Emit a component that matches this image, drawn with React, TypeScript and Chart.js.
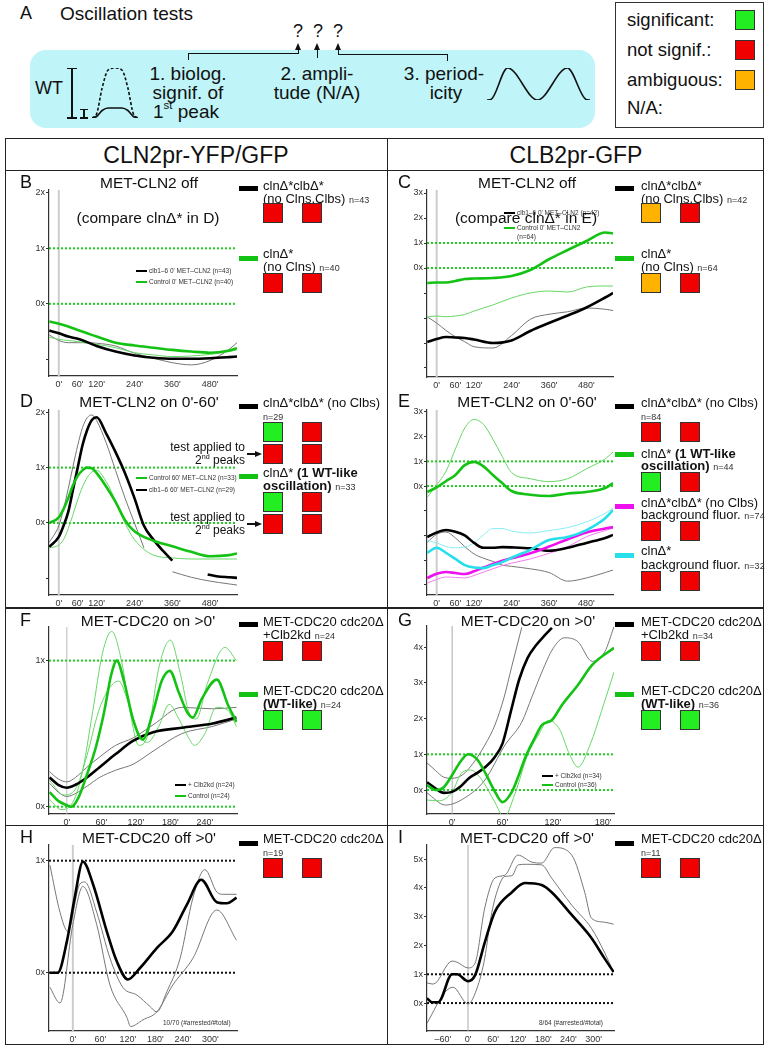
import React, { useEffect, useRef } from "react";
import { Chart, registerables } from "chart.js";
Chart.register(...registerables);

const FONT = '"Liberation Sans", Arial, Helvetica, sans-serif';

// ---------- colours ----------
const GREEN = "#14c214";
const GREEN_THIN = "#66d866";
const GREEN_DOT = "#22cc22";
const BLACK = "#000000";
const GRAY_THIN = "#777777";
const CYAN = "#27dfea";
const CYAN_THIN = "#86eef4";
const MAGENTA = "#ee10ee";
const MAGENTA_THIN = "#f27af2";
const SQ_GREEN = "#22ee22";
const SQ_RED = "#f00000";
const SQ_ORANGE = "#ffb300";
const AXIS = "#333333";

// ---------- tick values ----------
const X_TICKS_LONG = [0, 60, 120, 240, 360, 480];
const X_TICKS_F = [0, 60, 120, 180, 240];
const X_TICKS_G = [0, 60, 120, 180];
const X_TICKS_H = [0, 60, 120, 180, 240, 300];
const X_TICKS_I = [-60, 0, 60, 120, 180, 240, 300];
const Y_TICKS_BD = [2, 1, 0, -1];
const Y_TICKS_CE = [3, 2, 1, 0, -1, -2, -3, -4];
const Y_TICKS_F = [1, 0];
const Y_TICKS_G = [4, 3, 2, 1, 0];
const Y_TICKS_H = [1, 0];
const Y_TICKS_I = [5, 4, 3, 2, 1, 0];

// ---------- B / C ----------
const BC_T = [-30, 0, 30, 60, 90, 120, 180, 240, 300, 360, 420, 480, 540, 565];
const B_GREEN = [-0.32, -0.36, -0.41, -0.47, -0.53, -0.59, -0.7, -0.75, -0.79, -0.83, -0.86, -0.88, -0.84, -0.8];
const B_GREEN_THIN = [-0.6, -0.64, -0.66, -0.68, -0.71, -0.73, -0.79, -0.88, -0.92, -0.95, -0.94, -0.91, -0.86, -0.83];
const B_BLACK = [-0.48, -0.53, -0.59, -0.63, -0.69, -0.76, -0.86, -0.93, -0.97, -0.99, -0.99, -0.98, -0.96, -0.95];
const B_GRAY = [-0.56, -0.66, -0.7, -0.7, -0.7, -0.71, -0.76, -0.89, -0.98, -1.06, -1.1, -1.02, -0.82, -0.7];
const C_GREEN = [-0.6, -0.58, -0.58, -0.52, -0.44, -0.42, -0.4, -0.32, -0.08, 0.35, 0.72, 1.08, 1.42, 1.38];
const C_GREEN_THIN = [-1.96, -1.92, -1.95, -1.92, -1.86, -1.72, -1.48, -1.2, -1.0, -0.92, -0.96, -0.76, -0.72, -0.72];
const C_BLACK = [-2.96, -2.84, -2.76, -2.78, -2.8, -2.86, -3.0, -2.9, -2.52, -2.2, -1.9, -1.58, -1.18, -1.0];
const C_GRAY = [-1.96, -2.2, -2.5, -2.75, -2.95, -3.15, -3.2, -2.7, -2.05, -1.85, -1.75, -1.6, -1.65, -1.7];

// ---------- D ----------
const D_BLACK_T = [-30, 0, 15, 30, 45, 60, 75, 90, 105, 120, 150, 180, 210, 240, 270, 300, 330, 360];
const D_BLACK = [-0.43, -0.25, -0.05, 0.2, 0.6, 1.0, 1.4, 1.68, 1.86, 1.91, 1.62, 1.28, 0.9, 0.45, -0.05, -0.3, -0.5, -0.68];
const D_BLACK2_T = [472, 500, 540, 565];
const D_BLACK2 = [-0.93, -0.96, -0.98, -0.99];
const D_GRAY_T = [-30, 0, 15, 30, 45, 60, 75, 90, 105, 120, 150, 180, 210, 240, 270];
const D_GRAY = [-0.35, -0.05, 0.25, 0.62, 1.02, 1.4, 1.72, 1.9, 1.95, 1.85, 1.45, 0.95, 0.45, 0.0, -0.45];
const D_GRAY2_T = [360, 420, 480, 540, 565];
const D_GRAY2 = [-0.88, -0.98, -1.05, -1.1, -1.12];
const D_GREEN_T = [-30, 0, 15, 30, 45, 60, 75, 90, 105, 120, 150, 180, 210, 240, 300, 360, 420, 480, 540, 565];
const D_GREEN = [0.0, 0.1, 0.25, 0.45, 0.68, 0.85, 0.95, 1.0, 0.99, 0.9, 0.66, 0.38, 0.05, -0.15, -0.32, -0.42, -0.52, -0.6, -0.58, -0.55];
const D_GREEN_THIN = [-0.45, -0.4, -0.3, -0.1, 0.15, 0.42, 0.65, 0.82, 0.92, 0.95, 0.75, 0.4, 0.0, -0.3, -0.58, -0.63, -0.65, -0.65, -0.65, -0.65];

// ---------- E ----------
const E_T = [-30, 0, 30, 60, 90, 120, 150, 180, 210, 240, 300, 360, 420, 480, 540, 565];
const E_GREEN = [-0.24, -0.05, 0.2, 0.45, 0.85, 0.98, 0.8, 0.45, 0.12, -0.2, -0.35, -0.4, -0.3, -0.24, -0.08, 0.12];
const E_GREEN_THIN = [-0.45, 0.05, 0.6, 1.5, 2.35, 2.7, 2.5, 1.9, 1.2, 0.55, 0.3, 0.18, 0.3, 0.7, 1.1, 1.38];
const E_BLACK = [-2.06, -1.88, -1.78, -1.85, -2.0, -2.3, -2.5, -2.5, -2.47, -2.48, -2.52, -2.62, -2.5, -2.3, -2.1, -1.98];
const E_GRAY = [-2.27, -1.95, -1.86, -2.1, -2.45, -2.75, -2.92, -3.05, -3.2, -3.25, -3.35, -3.5, -3.85, -3.72, -3.5, -3.4];
const E_CYAN = [-2.7, -2.5, -2.7, -2.95, -3.2, -3.3, -3.32, -3.2, -3.08, -2.9, -2.58, -2.18, -2.06, -1.78, -1.3, -0.97];
const E_CYAN_THIN = [-2.2, -2.3, -2.45, -2.5, -2.47, -2.3, -1.98, -1.72, -1.72, -1.82, -1.9, -1.8, -1.68, -1.45, -1.1, -0.9];
const E_MAGENTA = [-3.72, -3.55, -3.48, -3.52, -3.56, -3.45, -3.3, -3.15, -3.02, -2.92, -2.72, -2.45, -2.15, -1.88, -1.72, -1.66];
const E_MAGENTA_THIN = [-3.93, -3.78, -3.68, -3.7, -3.72, -3.62, -3.48, -3.35, -3.22, -3.12, -2.95, -2.72, -2.45, -2.05, -1.8, -1.7];

// ---------- F ----------
const F_GREEN_T = [-30, -15, 0, 8, 20, 35, 50, 65, 77, 87, 100, 115, 132, 150, 165, 179, 195, 209, 219, 235, 261, 280, 295];
const F_GREEN = [0.1, 0.04, 0.01, 0.0, 0.06, 0.22, 0.4, 0.65, 0.9, 1.0, 0.85, 0.6, 0.46, 0.65, 0.86, 0.93, 0.78, 0.65, 0.61, 0.74, 0.87, 0.7, 0.58];
const F_GREEN_UP_T = [-30, -10, 5, 25, 45, 62, 78, 95, 110, 125, 140, 160, 180, 198, 212, 225, 245, 275, 295];
const F_GREEN_UP = [0.05, -0.02, 0.0, 0.2, 0.65, 1.05, 1.2, 1.0, 0.65, 0.42, 0.48, 0.95, 1.14, 0.9, 0.65, 0.6, 0.85, 1.09, 1.0];
const F_GREEN_LO_T = [-30, -5, 15, 35, 55, 72, 90, 108, 125, 140, 160, 178, 195, 212, 222, 240, 260, 280, 295];
const F_GREEN_LO = [0.18, 0.08, 0.12, 0.35, 0.65, 0.8, 0.86, 0.7, 0.5, 0.44, 0.55, 0.7, 0.6, 0.47, 0.42, 0.5, 0.68, 0.66, 0.55];
const F_BLACK_T = [-30, -15, 0, 15, 35, 57, 85, 115, 150, 200, 254, 295];
const F_BLACK = [0.2, 0.15, 0.13, 0.15, 0.2, 0.27, 0.36, 0.45, 0.51, 0.54, 0.57, 0.61];
const F_GRAY_UP = [0.24, 0.19, 0.17, 0.2, 0.27, 0.34, 0.42, 0.47, 0.56, 0.68, 0.67, 0.68];
const F_GRAY_LO = [0.16, 0.1, 0.07, 0.09, 0.14, 0.2, 0.25, 0.29, 0.38, 0.5, 0.55, 0.6];

// ---------- G ----------
const G_BLACK_T = [-30, -20, -10, 0, 10, 20, 30, 40, 50, 60, 70, 80, 90, 100, 110, 119];
const G_BLACK = [0.22, 0.05, -0.08, -0.05, 0.1, 0.33, 0.48, 0.65, 0.9, 1.3, 2.2, 3.1, 3.7, 4.05, 4.32, 4.54];
const G_GRAY_UP_T = [-30, -20, -10, 0, 12, 25, 39, 51, 62, 71, 83];
const G_GRAY_UP = [0.76, 0.55, 0.36, 0.33, 0.42, 0.75, 1.26, 1.82, 2.6, 3.45, 4.55];
const G_GRAY_LO_T = [-30, -8, 15, 39, 63, 83, 95, 107, 120, 134, 150, 167, 182, 193];
const G_GRAY_LO = [-0.08, -0.42, -0.22, 0.28, 1.26, 1.9, 2.6, 3.3, 3.95, 4.26, 4.15, 3.6, 3.87, 4.57];
const G_GREEN_T = [-30, -20, -10, 0, 10, 19, 30, 39, 50, 60, 71, 80, 87, 99, 107, 119, 131, 150, 167, 193];
const G_GREEN = [0.14, 0.0, 0.08, 0.42, 0.8, 1.0, 0.85, 0.5, 0.0, -0.34, -0.06, 0.45, 0.9, 1.48, 1.82, 1.96, 2.38, 2.94, 3.5, 3.98];
const G_GREEN_THIN_T = [-30, -15, 0, 12, 22, 35, 50, 62, 75, 90, 102, 115, 128, 140, 150, 165, 178, 193];
const G_GREEN_THIN = [-0.28, -0.3, -0.05, 0.5, 0.56, 0.3, -0.3, -0.75, -0.1, 0.98, 1.5, 1.95, 1.7, 1.0, 0.64, 1.3, 2.2, 3.3];

// ---------- H ----------
const H_BLACK_T = [-50, -33, -13, 4, 22, 44, 74, 96, 120, 146, 183, 218, 249, 280, 314, 336, 357];
const H_BLACK = [0, 0, 0.28, 0.67, 0.99, 0.79, 0.37, 0.1, -0.06, 0.04, 0.22, 0.37, 0.61, 0.83, 0.63, 0.62, 0.67];
const H_GRAY1_T = [-50, -28, -11, 15, 26, 52, 81, 109, 140, 168, 183, 205, 234, 262, 288, 314, 328, 357];
const H_GRAY1 = [0.96, 0.54, 0.37, 0.79, 0.81, 0.54, 0.13, -0.13, -0.2, -0.3, -0.35, -0.17, 0.13, 0.67, 0.92, 0.72, 0.7, 0.7];
const H_GRAY2_T = [-50, -28, 0, 22, 52, 81, 118, 126, 153, 183, 218, 262, 314, 357];
const H_GRAY2 = [-0.13, -0.27, 0.43, 0.77, 0.43, -0.11, -0.4, -0.48, -0.42, -0.35, -0.11, 0.13, 0.56, 0.29];

// ---------- I ----------
const I_BLACK_T = [-98, -86, -71, -38, -26, 0, 17, 40, 64, 105, 136, 176, 200, 248, 295, 326, 348];
const I_BLACK = [0.17, 0.03, 0.03, 1.0, 1.0, 0.76, 0.97, 2.1, 3.16, 3.85, 4.17, 4.1, 3.85, 3.06, 2.26, 1.56, 1.08];
const I_GRAY_UP_T = [-98, -83, -38, -26, 0, 17, 40, 64, 88, 119, 152, 176, 207, 248, 279, 295, 326, 348];
const I_GRAY_UP = [0.7, 0.66, 1.46, 1.42, 1.22, 1.39, 3.3, 4.34, 4.44, 5.14, 4.9, 4.86, 5.4, 5.14, 3.85, 2.95, 2.81, 2.74];
const I_GRAY_LO_T = [-98, -55, -36, 0, 24, 40, 55, 70, 88, 105, 120, 140, 176, 200, 248, 295, 326, 348];
const I_GRAY_LO = [-0.7, 0.38, 0.55, -0.03, 0.62, 1.56, 3.0, 3.9, 4.4, 4.42, 4.8, 4.82, 4.8, 4.34, 3.4, 2.6, 1.77, 1.08];

// ---------- schematic (panel A) ----------
const PEAK_X = [0, 0.1, 0.22, 0.35, 0.5, 0.65, 0.78, 0.9, 1];
const PEAK_WT = [0, 0.08, 0.6, 0.96, 1, 0.96, 0.6, 0.08, 0];
const PEAK_MUT = [0, 0.03, 0.15, 0.2, 0.2, 0.2, 0.15, 0.03, 0];
const WAVE_X = [0, 0.04, 0.2, 0.49, 0.78, 0.96, 1];
const WAVE_Y = [0, 0.02, 1, 0, 1, 0.02, 0];

type Line = { t: number[]; v: number[]; color: string; w: number; dash?: number[] };
type Panel = {
  left: number; top: number; right: number; bottom: number;
  xMin: number; xMax: number; yMin: number; yMax: number;
  xTicks: number[]; yTicks: number[]; refs: number[]; refColor: string;
  zeroColor: string; zeroWidth: number; lines: Line[];
};

const thin = (t: number[], v: number[], color: string): Line => ({ t, v, color, w: 1 });
const thick = (t: number[], v: number[], color: string): Line => ({ t, v, color, w: 2.6 });

const PANELS: Panel[] = [
  { // B
    left: 49, top: 190, right: 237, bottom: 376, xMin: -31, xMax: 565, yMin: -1.3, yMax: 2.05,
    xTicks: X_TICKS_LONG, yTicks: Y_TICKS_BD, refs: [1, 0], refColor: GREEN_DOT, zeroColor: "#cccccc", zeroWidth: 2,
    lines: [thin(BC_T, B_GRAY, GRAY_THIN), thin(BC_T, B_GREEN_THIN, GREEN_THIN), thick(BC_T, B_BLACK, BLACK), thick(BC_T, B_GREEN, GREEN)],
  },
  { // C
    left: 427, top: 190, right: 613, bottom: 377, xMin: -31, xMax: 565, yMin: -4.36, yMax: 3.12,
    xTicks: X_TICKS_LONG, yTicks: Y_TICKS_CE, refs: [1, 0], refColor: GREEN_DOT, zeroColor: "#cccccc", zeroWidth: 2,
    lines: [thin(BC_T, C_GRAY, GRAY_THIN), thin(BC_T, C_GREEN_THIN, GREEN_THIN), thick(BC_T, C_BLACK, BLACK), thick(BC_T, C_GREEN, GREEN)],
  },
  { // D
    left: 49, top: 410, right: 237, bottom: 595, xMin: -31, xMax: 565, yMin: -1.3, yMax: 2.04,
    xTicks: X_TICKS_LONG, yTicks: Y_TICKS_BD, refs: [1, 0], refColor: GREEN_DOT, zeroColor: "#cccccc", zeroWidth: 2,
    lines: [
      thin(D_GRAY_T, D_GRAY, GRAY_THIN), thin(D_GRAY2_T, D_GRAY2, GRAY_THIN),
      thin(D_GREEN_T, D_GREEN_THIN, GREEN_THIN),
      thick(D_BLACK_T, D_BLACK, BLACK), thick(D_BLACK2_T, D_BLACK2, BLACK),
      thick(D_GREEN_T, D_GREEN, GREEN),
    ],
  },
  { // E
    left: 427, top: 410, right: 613, bottom: 595, xMin: -31, xMax: 565, yMin: -4.41, yMax: 3.08,
    xTicks: X_TICKS_LONG, yTicks: Y_TICKS_CE, refs: [1, 0], refColor: GREEN_DOT, zeroColor: "#cccccc", zeroWidth: 2,
    lines: [
      thin(E_T, E_GRAY, GRAY_THIN), thin(E_T, E_MAGENTA_THIN, MAGENTA_THIN), thin(E_T, E_CYAN_THIN, CYAN_THIN),
      thin(E_T, E_GREEN_THIN, GREEN_THIN),
      thick(E_T, E_BLACK, BLACK), thick(E_T, E_MAGENTA, MAGENTA), thick(E_T, E_CYAN, CYAN), thick(E_T, E_GREEN, GREEN),
    ],
  },
  { // F
    left: 49, top: 627, right: 237, bottom: 814, xMin: -31, xMax: 296, yMin: -0.05, yMax: 1.23,
    xTicks: X_TICKS_F, yTicks: Y_TICKS_F, refs: [1, 0], refColor: GREEN_DOT, zeroColor: "#bbbbbb", zeroWidth: 1,
    lines: [
      thin(F_BLACK_T, F_GRAY_UP, GRAY_THIN), thin(F_BLACK_T, F_GRAY_LO, GRAY_THIN),
      thin(F_GREEN_UP_T, F_GREEN_UP, GREEN_THIN), thin(F_GREEN_LO_T, F_GREEN_LO, GREEN_THIN),
      thick(F_BLACK_T, F_BLACK, BLACK), thick(F_GREEN_T, F_GREEN, GREEN),
    ],
  },
  { // G
    left: 427, top: 626, right: 614, bottom: 814, xMin: -30, xMax: 193, yMin: -0.67, yMax: 4.59,
    xTicks: X_TICKS_G, yTicks: Y_TICKS_G, refs: [1, 0], refColor: GREEN_DOT, zeroColor: "#aaaaaa", zeroWidth: 1,
    lines: [
      thin(G_GRAY_UP_T, G_GRAY_UP, GRAY_THIN), thin(G_GRAY_LO_T, G_GRAY_LO, GRAY_THIN),
      thin(G_GREEN_THIN_T, G_GREEN_THIN, GREEN_THIN),
      thick(G_BLACK_T, G_BLACK, BLACK), thick(G_GREEN_T, G_GREEN, GREEN),
    ],
  },
  { // H
    left: 49, top: 845, right: 237, bottom: 1031, xMin: -52, xMax: 358, yMin: -0.52, yMax: 1.14,
    xTicks: X_TICKS_H, yTicks: Y_TICKS_H, refs: [1, 0], refColor: "#111111", zeroColor: "#cccccc", zeroWidth: 2,
    lines: [thin(H_GRAY1_T, H_GRAY1, GRAY_THIN), thin(H_GRAY2_T, H_GRAY2, GRAY_THIN), thick(H_BLACK_T, H_BLACK, BLACK)],
  },
  { // I
    left: 427, top: 845, right: 614, bottom: 1031, xMin: -98, xMax: 349, yMin: -0.97, yMax: 5.49,
    xTicks: X_TICKS_I, yTicks: Y_TICKS_I, refs: [1, 0], refColor: "#111111", zeroColor: "#aaaaaa", zeroWidth: 1,
    lines: [thin(I_GRAY_UP_T, I_GRAY_UP, GRAY_THIN), thin(I_GRAY_LO_T, I_GRAY_LO, GRAY_THIN), thick(I_BLACK_T, I_BLACK, BLACK)],
  },
];

const PAD_L = 40, PAD_T = 10, PAD_R = 6, PAD_B = 26;

function fmtX(v: number) {
  return v < 0 ? "\u2013" + Math.abs(v) + "'" : v + "'";
}

function PlotChart({ p }: { p: Panel }) {
  const ref = useRef<HTMLCanvasElement>(null);
  const w = p.right - p.left + PAD_L + PAD_R;
  const h = p.bottom - p.top + PAD_T + PAD_B;
  useEffect(() => {
    const ds: any[] = [];
    const n = p.lines.length;
    p.lines.forEach((l, i) => {
      ds.push({
        data: l.t.map((t, j) => ({ x: t, y: l.v[j] })),
        borderColor: l.color, borderWidth: l.w, borderDash: l.dash || [],
        pointRadius: 0, fill: false, cubicInterpolationMode: "monotone",
        order: n - i,
      });
    });
    p.refs.forEach((r) => {
      ds.push({
        data: [{ x: p.xMin, y: r }, { x: p.xMax, y: r }],
        borderColor: p.refColor, borderWidth: 2, borderDash: [2, 2],
        pointRadius: 0, fill: false, order: 100,
      });
    });
    ds.push({
      data: [{ x: 0, y: p.yMin }, { x: 0, y: p.yMax }],
      borderColor: p.zeroColor, borderWidth: p.zeroWidth, pointRadius: 0, fill: false, order: 200,
    });
    const chart = new Chart(ref.current as HTMLCanvasElement, {
      type: "line",
      data: { datasets: ds },
      options: {
        animation: false,
        responsive: false,
        devicePixelRatio: 1,
        events: [],
        layout: { padding: { left: 0, top: PAD_T, right: PAD_R, bottom: 0 } },
        plugins: { legend: { display: false }, tooltip: { enabled: false } },
        scales: {
          x: {
            type: "linear", min: p.xMin, max: p.xMax,
            afterBuildTicks: (s: any) => { s.ticks = p.xTicks.map((v) => ({ value: v })); },
            afterFit: (s: any) => { s.height = PAD_B; },
            grid: { display: false, drawTicks: false },
            border: { display: true, color: AXIS, width: 1.2 },
            ticks: {
              autoSkip: false, maxRotation: 0, padding: 3, color: "#333",
              font: { family: FONT, size: 9 },
              callback: (v: any) => fmtX(Number(v)),
            },
          },
          y: {
            type: "linear", min: p.yMin, max: p.yMax,
            afterBuildTicks: (s: any) => { s.ticks = p.yTicks.map((v) => ({ value: v })); },
            afterFit: (s: any) => { s.width = PAD_L; },
            grid: { display: true, drawOnChartArea: false, drawTicks: true, tickLength: 3, color: AXIS },
            border: { display: true, color: AXIS, width: 1.2 },
            ticks: {
              padding: 1, color: "#333", font: { family: FONT, size: 9 },
              callback: (v: any) => (Number(v) >= 0 ? v + "x" : ""),
            },
          },
        },
      } as any,
    });
    return () => chart.destroy();
  }, []);
  return (
    <canvas ref={ref} width={w} height={h}
      style={{ position: "absolute", left: p.left - PAD_L, top: p.top - PAD_T, width: w, height: h }} />
  );
}

function SketchChart({ left, top, width, height, xs, lines }: any) {
  const ref = useRef<HTMLCanvasElement>(null);
  useEffect(() => {
    const chart = new Chart(ref.current as HTMLCanvasElement, {
      type: "line",
      data: {
        datasets: lines.map((l: any) => ({
          data: xs.map((x: number, j: number) => ({ x, y: l.v[j] })),
          borderColor: "#111", borderWidth: 1.6, borderDash: l.dash || [],
          pointRadius: 0, cubicInterpolationMode: "monotone", clip: false, fill: false,
        })),
      },
      options: {
        animation: false, responsive: false, devicePixelRatio: 1, events: [],
        layout: { padding: 0 },
        plugins: { legend: { display: false }, tooltip: { enabled: false } },
        scales: {
          x: { type: "linear", min: 0, max: 1, display: false },
          y: { type: "linear", min: 0, max: 1, display: false },
        },
      } as any,
    });
    return () => chart.destroy();
  }, []);
  return <canvas ref={ref} width={width} height={height} style={{ position: "absolute", left, top, width, height }} />;
}

// ---------- small layout helpers ----------
function T({ x, cy, s = 13, a = "l", b = false, c = "#111", children }: any) {
  const tr = a === "c" ? "translateX(-50%)" : a === "r" ? "translateX(-100%)" : undefined;
  return (
    <div style={{
      position: "absolute", left: x, top: cy - s / 2, fontSize: s, lineHeight: `${s}px`,
      fontFamily: FONT, fontWeight: b ? "bold" : "normal", color: c, whiteSpace: "nowrap", transform: tr,
    }}>{children}</div>
  );
}
const Sup = ({ children }: any) => (
  <span style={{ fontSize: "0.6em", position: "relative", top: "-0.75em" }}>{children}</span>
);
const N = ({ children }: any) => <span style={{ fontSize: 9, color: "#333" }}>{children}</span>;
const Box = ({ x, y, w, h, c }: any) => (
  <div style={{ position: "absolute", left: x, top: y, width: w, height: h, background: c }} />
);
const Sq = ({ x, y, c }: any) => (
  <div style={{ position: "absolute", left: x, top: y, width: 20, height: 20, background: c, border: "1.5px solid #333", boxSizing: "border-box" }} />
);
const Bar = ({ x, y, c }: any) => <Box x={x} y={y} w={19} h={5} c={c} />;
const ArrowUp = ({ x, y }: any) => (
  <div style={{ position: "absolute", left: x - 3, top: y, width: 0, height: 0, borderLeft: "3px solid transparent", borderRight: "3px solid transparent", borderBottom: "7px solid #111" }} />
);
const ArrowRight = ({ x, y }: any) => (
  <div style={{ position: "absolute", left: x, top: y - 3, width: 0, height: 0, borderTop: "3px solid transparent", borderBottom: "3px solid transparent", borderLeft: "7px solid #111" }} />
);
const MiniKey = ({ x, y, c, text }: any) => (
  <>
    <Box x={x} y={y - 0.75} w={11} h={1.5} c={c} />
    <T x={x + 13} cy={y} s={6.5} c="#333">{text}</T>
  </>
);

function TestArrow({ y }: any) {
  return (
    <>
      <T x={245} cy={y - 7} s={12} a="r">test applied to</T>
      <T x={245} cy={y + 6} s={12} a="r">2<Sup>nd</Sup> peaks</T>
      <Box x={247} y={y - 0.6} w={9} h={1.3} c="#111" />
      <ArrowRight x={255} y={y} />
    </>
  );
}

export default function App() {
  return (
    <div style={{ position: "absolute", left: 0, top: 0, width: 767, height: 1050, background: "#fff", overflow: "hidden", fontFamily: FONT }}>
      {/* ---------- Panel A ---------- */}
      <T x={20} cy={13} s={18}>A</T>
      <T x={60} cy={13} s={19}>Oscillation tests</T>
      <div style={{ position: "absolute", left: 30, top: 50, width: 565, height: 78, background: "#bff4f8", borderRadius: 16 }} />
      <T x={35} cy={88} s={18}>WT</T>
      <Box x={71.2} y={68} w={1.6} h={50} c="#111" />
      <Box x={67} y={67.5} w={10} h={1.6} c="#111" />
      <Box x={67} y={117} w={10} h={1.6} c="#111" />
      <Box x={83.2} y={109} w={1.6} h={9} c="#111" />
      <Box x={80} y={108.5} w={8} h={1.6} c="#111" />
      <Box x={80} y={117} w={8} h={1.6} c="#111" />
      <SketchChart left={92} top={68} width={46} height={50} xs={PEAK_X}
        lines={[{ v: PEAK_WT, dash: [3, 2] }, { v: PEAK_MUT }]} />
      <SketchChart left={487} top={68} width={103} height={32} xs={WAVE_X} lines={[{ v: WAVE_Y }]} />
      <T x={188} cy={73} s={19} a="c">1. biolog.</T>
      <T x={188} cy={92} s={19} a="c">signif. of</T>
      <T x={186} cy={111} s={19} a="c">1<Sup>st</Sup> peak</T>
      <T x={317} cy={73} s={19} a="c">2. ampli-</T>
      <T x={317} cy={92} s={19} a="c">tude (N/A)</T>
      <T x={444} cy={73} s={19} a="c">3. period-</T>
      <T x={446} cy={92} s={19} a="c">icity</T>
      {/* brackets + arrows */}
      <Box x={187.5} y={53} w={1.3} h={7} c="#111" />
      <Box x={187.5} y={53} w={111} h={1.3} c="#111" />
      <Box x={297.5} y={48} w={1.3} h={6} c="#111" />
      <ArrowUp x={298} y={43} />
      <Box x={316.5} y={48} w={1.3} h={10} c="#111" />
      <ArrowUp x={317} y={43} />
      <Box x={337.5} y={48} w={1.3} h={6.5} c="#111" />
      <ArrowUp x={338} y={43} />
      <Box x={337.5} y={53.5} w={110} h={1.3} c="#111" />
      <Box x={446.5} y={53.5} w={1.3} h={7} c="#111" />
      <T x={298} cy={31} s={18} a="c">?</T>
      <T x={318} cy={31} s={18} a="c">?</T>
      <T x={338} cy={31} s={18} a="c">?</T>
      {/* legend box */}
      <div style={{ position: "absolute", left: 615, top: 2, width: 149, height: 126, border: "1.5px solid #333", boxSizing: "border-box" }} />
      <T x={627} cy={20} s={18.5}>significant:</T>
      <Sq x={735} y={10} c={SQ_GREEN} />
      <T x={627} cy={50} s={18.5}>not signif.:</T>
      <Sq x={735} y={40} c={SQ_RED} />
      <T x={627} cy={80} s={18.5}>ambiguous:</T>
      <Sq x={735} y={70} c={SQ_ORANGE} />
      <T x={627} cy={108} s={18.5}>N/A:</T>

      {/* ---------- table ---------- */}
      <div style={{ position: "absolute", left: 5, top: 138, width: 759, height: 907, border: "1.5px solid #222", boxSizing: "border-box" }} />
      <Box x={5} y={169.5} w={759} h={1.5} c="#222" />
      <Box x={5} y={607} w={759} h={1.5} c="#222" />
      <Box x={5} y={824.5} w={759} h={1.5} c="#222" />
      <Box x={386.5} y={138} w={1.5} h={907} c="#222" />
      <T x={196} cy={155} s={23} a="c">CLN2pr-YFP/GFP</T>
      <T x={576} cy={155} s={23} a="c">CLB2pr-GFP</T>

      {PANELS.map((p, i) => <PlotChart key={i} p={p} />)}

      {/* ---------- B ---------- */}
      <T x={20} cy={182} s={18}>B</T>
      <T x={149} cy={183} s={15.5} a="c">MET-CLN2 off</T>
      <T x={148} cy={218} s={15.5} a="c">(compare clnΔ* in D)</T>
      <MiniKey x={136} y={271} c={BLACK} text="clb1–6 0' MET–CLN2 (n=43)" />
      <MiniKey x={136} y={282} c={GREEN} text="Control 0' MET–CLN2 (n=40)" />
      <Bar x={239} y={186} c={BLACK} />
      <T x={263} cy={185} s={13}>clnΔ*clbΔ*</T>
      <T x={263} cy={198} s={13}>(no Clns,Clbs) <N>n=43</N></T>
      <Sq x={263} y={203} c={SQ_RED} /><Sq x={302} y={203} c={SQ_RED} />
      <Bar x={239} y={256} c={GREEN} />
      <T x={263} cy={253} s={13}>clnΔ*</T>
      <T x={263} cy={266} s={13}>(no Clns) <N>n=40</N></T>
      <Sq x={263} y={273} c={SQ_RED} /><Sq x={302} y={273} c={SQ_RED} />

      {/* ---------- C ---------- */}
      <T x={398} cy={182} s={18}>C</T>
      <T x={527} cy={183} s={15.5} a="c">MET-CLN2 off</T>
      <MiniKey x={504} y={213} c={BLACK} text="clb1–6 0' MET–CLN2 (n=42)" />
      <T x={526} cy={218} s={15.5} a="c">(compare clnΔ* in E)</T>
      <MiniKey x={504} y={228} c={GREEN} text="Control 0' MET–CLN2" />
      <T x={517} cy={237} s={6.5} c="#333">(n=64)</T>
      <Bar x={615} y={186} c={BLACK} />
      <T x={641} cy={185} s={13}>clnΔ*clbΔ*</T>
      <T x={641} cy={198} s={13}>(no Clns,Clbs) <N>n=42</N></T>
      <Sq x={641} y={203} c={SQ_ORANGE} /><Sq x={680} y={203} c={SQ_RED} />
      <Bar x={615} y={256} c={GREEN} />
      <T x={641} cy={253} s={13}>clnΔ*</T>
      <T x={641} cy={266} s={13}>(no Clns) <N>n=64</N></T>
      <Sq x={641} y={273} c={SQ_ORANGE} /><Sq x={680} y={273} c={SQ_RED} />

      {/* ---------- D ---------- */}
      <T x={20} cy={401} s={18}>D</T>
      <T x={149} cy={402} s={15.5} a="c">MET-CLN2 on 0'-60'</T>
      <MiniKey x={136} y={478} c={GREEN} text="Control 60' MET–CLN2 (n=33)" />
      <MiniKey x={136} y={490} c={BLACK} text="clb1–6 60' MET–CLN2 (n=29)" />
      <Bar x={239} y={404} c={BLACK} />
      <T x={263} cy={402} s={13}>clnΔ*clbΔ* (no Clbs)</T>
      <T x={263} cy={417} s={9} c="#333">n=29</T>
      <Sq x={263} y={422} c={SQ_GREEN} /><Sq x={302} y={422} c={SQ_RED} />
      <Sq x={263} y={444} c={SQ_RED} /><Sq x={302} y={444} c={SQ_RED} />
      <TestArrow y={454} />
      <Bar x={239} y={474} c={GREEN} />
      <T x={263} cy={472} s={13}>clnΔ* <b>(1 WT-like</b></T>
      <T x={263} cy={485} s={13}><b>oscillation)</b> <N>n=33</N></T>
      <Sq x={263} y={492} c={SQ_GREEN} /><Sq x={302} y={492} c={SQ_RED} />
      <Sq x={263} y={514} c={SQ_RED} /><Sq x={302} y={514} c={SQ_RED} />
      <TestArrow y={524} />

      {/* ---------- E ---------- */}
      <T x={398} cy={401} s={18}>E</T>
      <T x={527} cy={402} s={15.5} a="c">MET-CLN2 on 0'-60'</T>
      <Bar x={615} y={404} c={BLACK} />
      <T x={641} cy={402} s={13}>clnΔ*clbΔ* (no Clbs)</T>
      <T x={641} cy={417} s={9} c="#333">n=84</T>
      <Sq x={641} y={422} c={SQ_RED} /><Sq x={680} y={422} c={SQ_RED} />
      <Bar x={615} y={452} c={GREEN} />
      <T x={641} cy={453} s={13}>clnΔ* <b>(1 WT-like</b></T>
      <T x={641} cy={465} s={13}><b>oscillation)</b> <N>n=44</N></T>
      <Sq x={641} y={472} c={SQ_GREEN} /><Sq x={680} y={472} c={SQ_RED} />
      <Bar x={615} y={504} c={MAGENTA} />
      <T x={641} cy={502} s={13}>clnΔ*clbΔ* (no Clbs)</T>
      <T x={641} cy={514} s={13}>background fluor. <N>n=74</N></T>
      <Sq x={641} y={521} c={SQ_RED} /><Sq x={680} y={521} c={SQ_RED} />
      <Bar x={615} y={553} c={CYAN} />
      <T x={641} cy={550} s={13}>clnΔ*</T>
      <T x={641} cy={564} s={13}>background fluor. <N>n=32</N></T>
      <Sq x={641} y={571} c={SQ_RED} /><Sq x={680} y={571} c={SQ_RED} />

      {/* ---------- F ---------- */}
      <T x={20} cy={620} s={18}>F</T>
      <T x={148} cy={621} s={15.5} a="c">MET-CDC20 on &gt;0'</T>
      <MiniKey x={175} y={785} c={BLACK} text="+ Clb2kd (n=24)" />
      <MiniKey x={175} y={796} c={GREEN} text="Control (n=24)" />
      <Bar x={239} y={622} c={BLACK} />
      <T x={263} cy={621} s={13}>MET-CDC20 cdc20Δ</T>
      <T x={263} cy={634} s={13}>+Clb2kd <N>n=24</N></T>
      <Sq x={263} y={641} c={SQ_RED} /><Sq x={302} y={641} c={SQ_RED} />
      <Bar x={239} y={692} c={GREEN} />
      <T x={263} cy={690} s={13}>MET-CDC20 cdc20Δ</T>
      <T x={263} cy={703} s={13}><b>(WT-like)</b> <N>n=24</N></T>
      <Sq x={263} y={710} c={SQ_GREEN} /><Sq x={302} y={710} c={SQ_GREEN} />

      {/* ---------- G ---------- */}
      <T x={398} cy={620} s={18}>G</T>
      <T x={528} cy={621} s={15.5} a="c">MET-CDC20 on &gt;0'</T>
      <MiniKey x={542} y={776} c={BLACK} text="+ Clb2kd (n=34)" />
      <MiniKey x={542} y={785} c={GREEN} text="Control (n=36)" />
      <Bar x={615} y={622} c={BLACK} />
      <T x={641} cy={621} s={13}>MET-CDC20 cdc20Δ</T>
      <T x={641} cy={634} s={13}>+Clb2kd <N>n=34</N></T>
      <Sq x={641} y={641} c={SQ_RED} /><Sq x={680} y={641} c={SQ_RED} />
      <Bar x={615} y={692} c={GREEN} />
      <T x={641} cy={690} s={13}>MET-CDC20 cdc20Δ</T>
      <T x={641} cy={703} s={13}><b>(WT-like)</b> <N>n=36</N></T>
      <Sq x={641} y={710} c={SQ_GREEN} /><Sq x={680} y={710} c={SQ_GREEN} />

      {/* ---------- H ---------- */}
      <T x={20} cy={837} s={18}>H</T>
      <T x={149} cy={838} s={15.5} a="c">MET-CDC20 off &gt;0'</T>
      <T x={163} cy={1023} s={6.5} c="#333">10/70 (#arrested/#total)</T>
      <Bar x={239} y={841} c={BLACK} />
      <T x={263} cy={838} s={13}>MET-CDC20 cdc20Δ</T>
      <T x={263} cy={853} s={9} c="#333">n=19</T>
      <Sq x={263} y={858} c={SQ_RED} /><Sq x={302} y={858} c={SQ_RED} />

      {/* ---------- I ---------- */}
      <T x={398} cy={837} s={18}>I</T>
      <T x={527} cy={838} s={15.5} a="c">MET-CDC20 off &gt;0'</T>
      <T x={539} cy={1023} s={6.5} c="#333">8/64 (#arrested/#total)</T>
      <Bar x={615} y={841} c={BLACK} />
      <T x={641} cy={838} s={13}>MET-CDC20 cdc20Δ</T>
      <T x={641} cy={853} s={9} c="#333">n=11</T>
      <Sq x={641} y={858} c={SQ_RED} /><Sq x={680} y={858} c={SQ_RED} />
    </div>
  );
}
